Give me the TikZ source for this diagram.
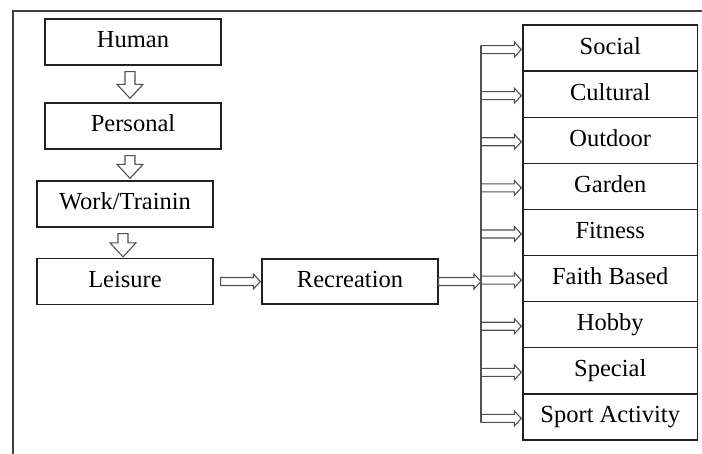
\documentclass[tikz,border=0pt]{standalone}
\usepackage{fontspec}
\setmainfont{Liberation Serif}
\usetikzlibrary{calc}
\definecolor{framec}{HTML}{404040}
\definecolor{boxc}{HTML}{202020}
\definecolor{arrc}{HTML}{505050}
\newcommand{\hbarrow}[2]{\draw[barrow] let \p1=#1, \p2=#2 in (\x1,\y2+4) -- (\x2-7,\y2+4) -- (\x2-7,\y2+7.5) -- (\x2,\y2) -- (\x2-7,\y2-7.5) -- (\x2-7,\y2-4) -- (\x1,\y2-4) -- cycle;}
\newcommand{\vbarrow}[2]{\draw[barrow] let \p1=#1, \p2=#2 in (\x1-5,\y1) -- (\x1+5,\y1) -- (\x1+5,\y2+14) -- (\x1+13,\y2+14) -- (\x1,\y2) -- (\x1-13,\y2+14) -- (\x1-5,\y2+14) -- cycle;}
\begin{document}
\begin{tikzpicture}[x=1pt,y=-1pt,
  box/.style={draw=boxc, line width=1.3pt, minimum width=176pt, minimum height=46pt, inner sep=0pt,
    text height=17pt, text depth=5pt, font=\fontsize{24.5}{28}\selectfont},
  rbox/.style={box, minimum width=174.5pt, minimum height=46.11pt},
  barrow/.style={draw=arrc, line width=1.1pt, line join=miter}]
\useasboundingbox (0,0) rectangle (702,454);
\draw[framec, line width=1.4pt] (13,454) -- (13,11) -- (702,11);
% left column
\node[box] (human) at (133,42) {Human};
\node[box] (personal) at (133,126) {Personal};
\node[box] (work) at (125,204) {Work/Trainin};
\node[box] (leisure) at (125,281.5) {Leisure};
\node[box, minimum height=45pt] (recreation) at (350,281.5) {Recreation};
% right column
\foreach \t [count=\i] in {Social,Cultural,Outdoor,Garden,Fitness,Faith Based,Hobby,Special,Sport Activity}{
  \node[rbox] (rb\i) at (610.25,{25+46.11*(\i-0.5)}) {\t};
}
\coordinate (bus) at (481,0);
% down arrows
\vbarrow{($(human.south)+(-3,6)$)}{($(personal.north)+(-3,-4)$)}
\vbarrow{($(personal.south)+(-3,6)$)}{($(work.north)+(0,-2)$)}
\vbarrow{($(work.south)+(-2,6)$)}{($(leisure.north)+(0,-1)$)}
% horizontal arrows
\hbarrow{($(leisure.east)+(7,0)$)}{($(recreation.west)+(-1,0)$)}
\hbarrow{(recreation.east)}{(bus |- recreation.east)}
\foreach \i in {1,...,9}{
  \hbarrow{(bus |- rb\i.west)}{($(rb\i.west)+(-1,1.5)$)}
}
\draw[barrow] ($(bus |- rb1.west)+(0,-2.5)$) -- ($(bus |- rb9.west)+(0,5.5)$);
\end{tikzpicture}
\end{document}
